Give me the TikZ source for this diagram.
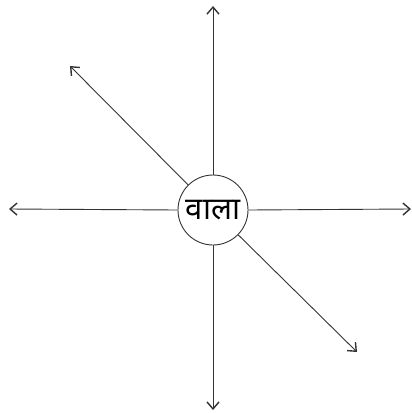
\documentclass[tikz,border=0pt]{standalone}
\usepackage{fontspec}
\newfontfamily\devfont[Script=Devanagari]{Noto Sans}
\usetikzlibrary{arrows.meta}
\tikzset{
  ray/.style={draw=black!80, line width=0.9pt, -{Straight Barb[length=7pt,width=12pt,line width=1.4pt]}},
  hub/.style={circle, draw=black!80, line width=0.9pt, minimum size=70pt, inner sep=0pt, font=\devfont\fontsize{31}{34}\selectfont}
}
\begin{document}
\begin{tikzpicture}[x=1pt,y=-1pt]
\useasboundingbox (0,0) rectangle (412,413);
\node[hub] (c) at (213,210) {\raisebox{1pt}{वाला}};
\coordinate (n) at (213,6);
\coordinate (s) at (213,410);
\coordinate (w) at (9,209);
\coordinate (e) at (411,209);
\coordinate (nw) at (70,66);
\coordinate (se) at (357,352);
\draw[ray] (c) -- (n);
\draw[ray] (c) -- (s);
\draw[ray] (c.west) -- (w);
\draw[ray] (c.east) -- (e);
\draw[ray] (c) -- (nw);
\draw[ray] (c) -- (se);
\end{tikzpicture}
\end{document}
